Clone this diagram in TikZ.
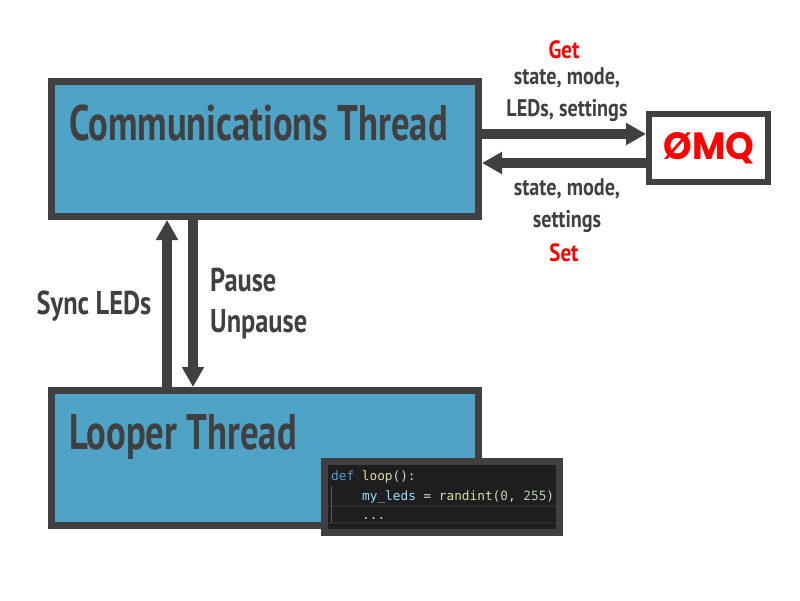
\documentclass[tikz,border=0pt]{standalone}
\usepackage{fontspec}
\setmainfont{PT Sans}[FakeStretch=0.733]
\newfontfamily\labfont{PT Sans}[FakeStretch=0.8]
\newfontfamily\smallfont{PT Sans}[FakeStretch=0.84]
\newfontfamily\logofont{Poppins}[FakeStretch=0.96]
\setmonofont{DejaVu Sans Mono}
\usetikzlibrary{arrows.meta}
\definecolor{ink}{HTML}{404040}
\definecolor{fillblue}{HTML}{4FA3C7}
\definecolor{codebg}{HTML}{1E1E1E}
\definecolor{kw}{HTML}{569CD6}
\definecolor{fn}{HTML}{DCDCAA}
\definecolor{var}{HTML}{9CDCFE}
\definecolor{num}{HTML}{B5CEA8}
\definecolor{plain}{HTML}{D4D4D4}
\definecolor{sepline}{HTML}{2A2A2A}
\definecolor{guide}{HTML}{5A5A5A}
\tikzset{
  thread/.style={draw=ink,fill=fillblue,line width=7pt,minimum width=427pt,minimum height=135pt,outer sep=3.5pt,inner sep=0pt},
  flow/.style={draw=ink,line width=10pt,-{Triangle[length=20pt,width=21pt,fill=ink]},shorten >=0pt},
  title/.style={text=ink,font=\fontsize{50}{50}\selectfont\bfseries,anchor=west,inner sep=0pt},
  lab/.style={text=ink,font=\labfont\fontsize{33}{33}\selectfont\bfseries,inner sep=0pt},
  small/.style={text=ink,font=\smallfont\fontsize{24}{24}\selectfont\bfseries,inner sep=0pt},
  red/.style={text=red,font=\smallfont\fontsize{25}{25}\selectfont\bfseries,inner sep=0pt},
  code/.style={font=\fontsize{12.75}{12.75}\selectfont\ttfamily,anchor=base west,inner sep=0pt}
}
\begin{document}
\begin{tikzpicture}[x=1pt,y=-1pt]
\useasboundingbox (0,0) rectangle (800,600);
\node[thread] (comm) at (265,149) {};
\node[thread] (loop) at (265,458) {};
\node[draw=ink,fill=white,line width=6pt,minimum width=119pt,minimum height=68pt,outer sep=3pt,inner sep=0pt] (zmq) at (708.5,148) {};
\node[text=red,font=\logofont\fontsize{38}{38}\selectfont\bfseries,inner sep=0pt] (logo) at (709,148) {ØMQ};
\node[title] (commt) at (69,123) {Communications Thread};
\node[title] (loopt) at (69,437) {Looper Thread};
% arrows
\coordinate (a1) at (comm.east |- 0,134);
\coordinate (a2) at (zmq.west |- 0,134);
\coordinate (b1) at (zmq.west |- 0,163);
\coordinate (b2) at (comm.east |- 0,163);
\coordinate (c1) at (167,0 |- loop.north);
\coordinate (c2) at (167,0 |- comm.south);
\coordinate (d1) at (193,0 |- comm.south);
\coordinate (d2) at (193,0 |- loop.north);
\draw[flow] (a1) -- (a2);
\draw[flow] (b1) -- (b2);
\draw[flow] (c1) -- (c2);
\draw[flow] (d1) -- (d2);
% labels
\node[red] (get) at (564,50) {Get};
\node[small] (l1) at (567,78) {state, mode,};
\node[small] (l2) at (567,111) {LEDs, settings};
\node[small] (l3) at (567,189) {state, mode,};
\node[small] (l4) at (567,222) {settings};
\node[red] (set) at (564,253) {Set};
\node[lab] (sync) at (94,306) {Sync LEDs};
\node[lab,anchor=west] (pause) at (210,280) {Pause};
\node[lab,anchor=west] (unpause) at (210,324) {Unpause};
% code box
\node[draw=ink,fill=codebg,line width=7pt,minimum width=235pt,minimum height=71pt,outer sep=3.5pt,inner sep=0pt] (codebox) at (442,497) {};
\fill[sepline] (328,505) rectangle (556,507);
\fill[sepline] (328,522) rectangle (556,523.5);
\fill[guide] (331,486) rectangle (332,523);
\node[code] (c1t) at (331,480) {\textcolor{kw}{def} \textcolor{fn}{loop}\textcolor{plain}{():}};
\node[code] (c2t) at (362,500) {\textcolor{var}{my\_leds} \textcolor{plain}{=} \textcolor{fn}{randint}\textcolor{plain}{(}\textcolor{num}{0}\textcolor{plain}{,} \textcolor{num}{255}\textcolor{plain}{)}};
\node[code] (c3t) at (362,519) {\textcolor{fn}{...}};
\end{tikzpicture}
\end{document}
